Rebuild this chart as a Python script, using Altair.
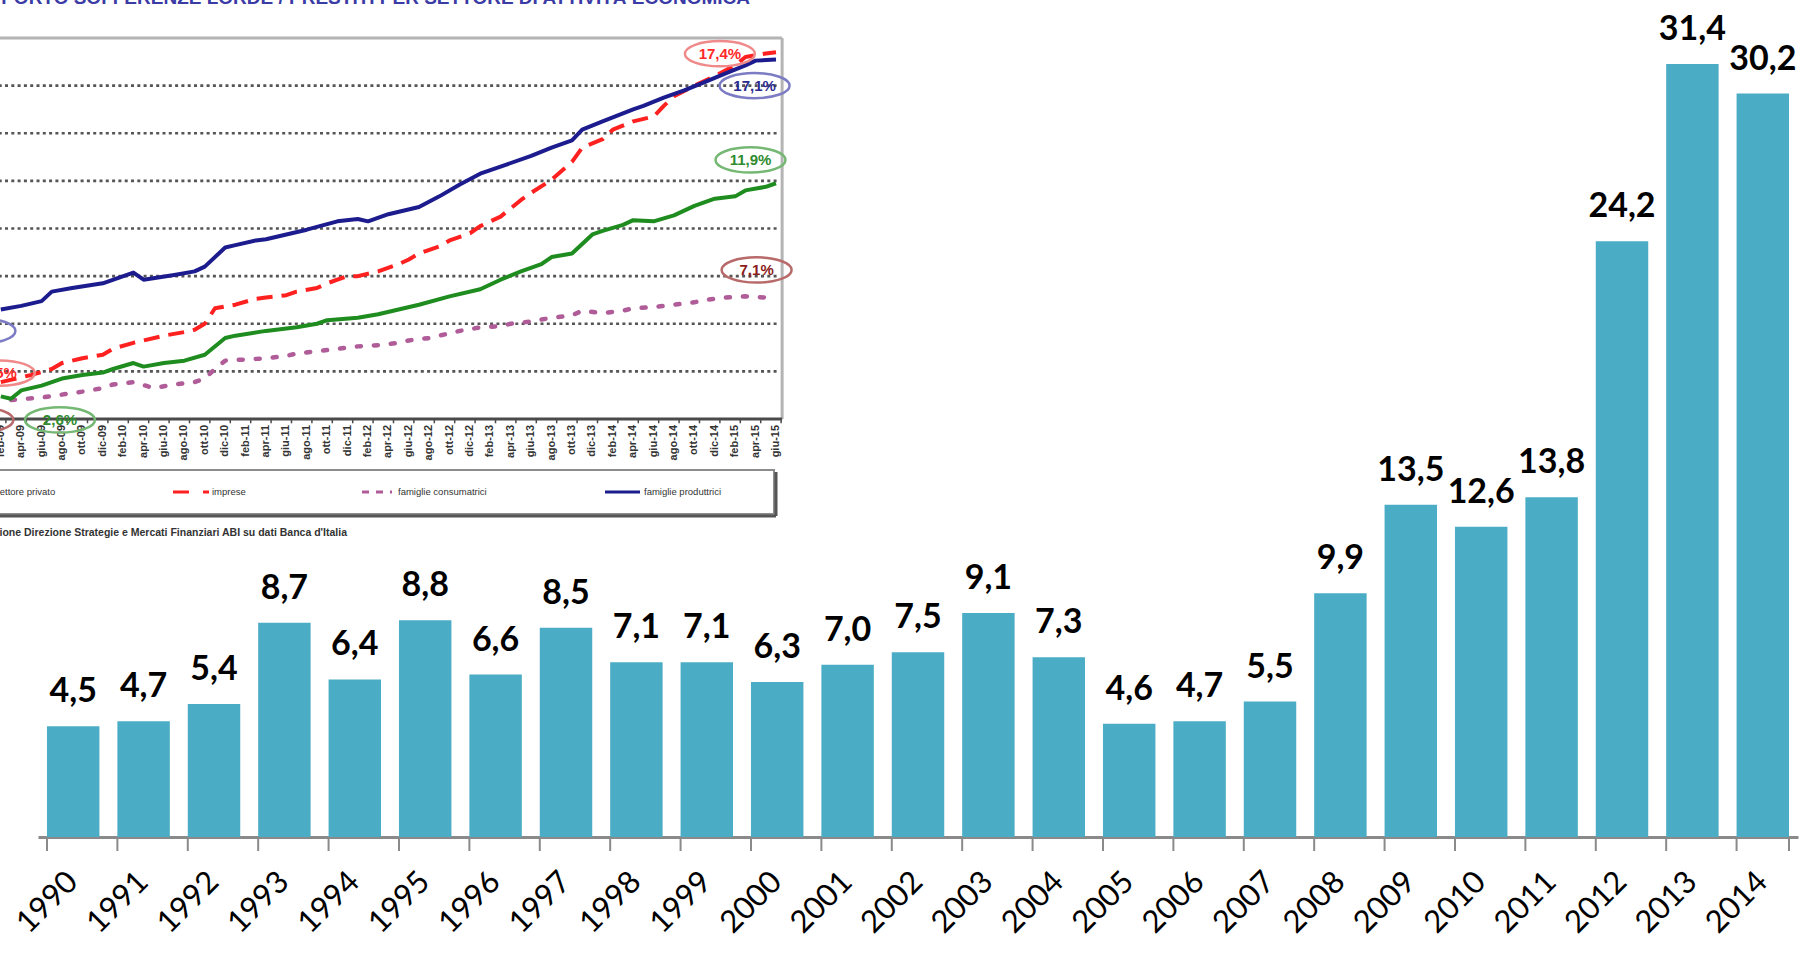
import altair as alt
import pandas as pd

# ---------------------------------------------------------------------------
# Main chart: yearly ratio (bars)
# ---------------------------------------------------------------------------
years = [str(y) for y in range(1990, 2015)]
ratio = [4.5, 4.7, 5.4, 8.7, 6.4, 8.8, 6.6, 8.5, 7.1, 7.1, 6.3, 7.0, 7.5,
         9.1, 7.3, 4.6, 4.7, 5.5, 9.9, 13.5, 12.6, 13.8, 24.2, 31.4, 30.2]

# ---------------------------------------------------------------------------
# Inset: monthly ratio by sector (percent)
# ---------------------------------------------------------------------------
priv_months = ["2009-02", "2009-03", "2009-04", "2009-06", "2009-08", "2009-10", "2009-12",
               "2010-01", "2010-03", "2010-04", "2010-06", "2010-08", "2010-10", "2010-12",
               "2011-01", "2011-04", "2011-07", "2011-09", "2011-10", "2012-01", "2012-03",
               "2012-05", "2012-07", "2012-10", "2013-01", "2013-03", "2013-05", "2013-07",
               "2013-08", "2013-10", "2013-12", "2014-01", "2014-03", "2014-04", "2014-06",
               "2014-08", "2014-10", "2014-12", "2015-02", "2015-03", "2015-05", "2015-06"]
priv_values = [2.95, 2.85, 3.2, 3.4, 3.7, 3.85, 3.95,
               4.1, 4.35, 4.2, 4.35, 4.45, 4.7, 5.4,
               5.5, 5.7, 5.85, 6.0, 6.15, 6.25, 6.4,
               6.6, 6.8, 7.15, 7.45, 7.85, 8.2, 8.5,
               8.8, 8.95, 9.75, 9.9, 10.15, 10.35, 10.3,
               10.55, 10.95, 11.25, 11.35, 11.6, 11.75, 11.9]

impr_months = ["2009-02", "2009-05", "2009-07", "2009-08", "2009-10", "2009-12", "2010-01",
               "2010-03", "2010-04", "2010-06", "2010-08", "2010-09", "2010-10", "2010-11",
               "2011-01", "2011-03", "2011-04", "2011-06", "2011-07", "2011-09", "2011-10",
               "2011-12", "2012-01", "2012-03", "2012-05", "2012-06", "2012-07", "2012-09",
               "2012-10", "2012-12", "2013-01", "2013-03", "2013-05", "2013-06", "2013-08",
               "2013-10", "2013-11", "2014-01", "2014-02", "2014-04", "2014-06", "2014-07",
               "2014-08", "2014-10", "2014-12", "2015-02", "2015-03", "2015-05", "2015-06"]
impr_values = [3.55, 3.85, 4.1, 4.35, 4.55, 4.7, 4.95,
               5.2, 5.3, 5.5, 5.65, 5.75, 6.0, 6.65,
               6.8, 7.05, 7.1, 7.2, 7.35, 7.5, 7.7,
               8.0, 8.0, 8.2, 8.5, 8.7, 8.95, 9.25,
               9.5, 9.8, 10.1, 10.5, 11.2, 11.5, 12.05,
               12.8, 13.4, 13.75, 14.15, 14.5, 14.7, 15.15,
               15.55, 16.0, 16.4, 16.85, 17.2, 17.35, 17.4]

cons_months = ["2009-03", "2009-06", "2009-10", "2009-12", "2010-01", "2010-03", "2010-05",
               "2010-07", "2010-09", "2010-10", "2010-11", "2010-12", "2011-02", "2011-04",
               "2011-06", "2011-07", "2011-09", "2011-11", "2012-01", "2012-03", "2012-05",
               "2012-06", "2012-08", "2012-09", "2012-11", "2013-01", "2013-03", "2013-04",
               "2013-06", "2013-08", "2013-10", "2013-11", "2014-01", "2014-03", "2014-04",
               "2014-06", "2014-08", "2014-10", "2014-11", "2015-01", "2015-03", "2015-05"]
cons_values = [2.8, 2.9, 3.15, 3.3, 3.45, 3.55, 3.3,
               3.45, 3.55, 3.7, 4.1, 4.45, 4.5, 4.55,
               4.65, 4.75, 4.85, 4.95, 5.05, 5.1, 5.2,
               5.3, 5.4, 5.5, 5.7, 5.85, 5.9, 6.0,
               6.1, 6.25, 6.35, 6.55, 6.45, 6.55, 6.65,
               6.7, 6.8, 6.9, 7.0, 7.1, 7.15, 7.1]

prod_months = ["2009-02", "2009-04", "2009-06", "2009-07", "2009-09", "2009-12", "2010-03",
               "2010-04", "2010-07", "2010-09", "2010-10", "2010-12", "2011-01", "2011-03",
               "2011-04", "2011-06", "2011-08", "2011-11", "2012-01", "2012-02", "2012-04",
               "2012-07", "2012-09", "2012-11", "2013-01", "2013-03", "2013-06", "2013-08",
               "2013-10", "2013-11", "2014-01", "2014-04", "2014-05", "2014-07", "2014-09",
               "2014-11", "2015-01", "2015-03", "2015-04", "2015-06"]
prod_values = [6.6, 6.75, 6.95, 7.35, 7.5, 7.7, 8.15,
               7.85, 8.05, 8.2, 8.4, 9.2, 9.3, 9.5,
               9.55, 9.75, 9.95, 10.3, 10.4, 10.3, 10.6,
               10.9, 11.35, 11.85, 12.3, 12.6, 13.05, 13.4,
               13.7, 14.15, 14.5, 15.0, 15.15, 15.5, 15.8,
               16.15, 16.5, 16.85, 17.05, 17.1]

series_names = ["settore privato", "imprese", "famiglie consumatrici", "famiglie produttrici"]
series_colors = ["#1f8c1f", "#ff2020", "#b05c98", "#1c1c8e"]

# Callout bubbles on the inset (label, month index from Jan 2009, percent)
callout_text = ["17,4%", "17,1%", "11,9%", "7,1%", "6,6%", "3,5%", "2,8%", "2,6%"]
callout_idx = [71.5, 74.9, 74.5, 75.1, -1.0, 0.9, -1.2, 6.8]
callout_pct = [17.34, 16.0, 12.88, 8.26, 5.7, 3.93, 1.96, 1.96]
callout_stroke = ["#f08a8a", "#7c7cc4", "#74b874", "#b86a6a", "#7c7cc4", "#f08a8a", "#b86a6a", "#74b874"]
callout_color = ["#ff2a2a", "#2b2b8f", "#2e8b2e", "#8b1c1c", "#2b2b8f", "#ff2a2a", "#8b1c1c", "#2e8b2e"]

month_abbr = ["gen", "feb", "mar", "apr", "mag", "giu", "lug", "ago", "set", "ott", "nov", "dic"]
grid_levels = [4, 6, 8, 10, 12, 14, 16]

inset_title = "RAPPORTO SOFFERENZE LORDE / PRESTITI PER SETTORE DI ATTIVITÀ ECONOMICA"
inset_source = "Fonte: Elaborazione Direzione Strategie e Mercati Finanziari ABI su dati Banca d'Italia"


def month_index(s):
    y, m = s.split("-")
    return (int(y) - 2009) * 12 + int(m) - 1


# ---------------------------------------------------------------------------
# Tables
# ---------------------------------------------------------------------------
main_df = pd.DataFrame({"year": years, "ratio": ratio})

rows = []
for name, months, vals in [
    (series_names[0], priv_months, priv_values),
    (series_names[1], impr_months, impr_values),
    (series_names[2], cons_months, cons_values),
    (series_names[3], prod_months, prod_values),
]:
    for mo, v in zip(months, vals):
        rows.append({"series": name, "idx": month_index(mo), "pct": v})
lines_df = pd.DataFrame(rows)

callout_df = pd.DataFrame({"label": callout_text, "idx": callout_idx, "pct": callout_pct,
                           "stroke": callout_stroke, "color": callout_color})

tick_idx = list(range(1, 78, 2))
tick_df = pd.DataFrame({
    "idx": tick_idx,
    "edge": [i + 0.5 for i in tick_idx],
    "label": [f"{month_abbr[i % 12]}-{(2009 + i // 12) % 100:02d}" for i in tick_idx],
    "pct": [2.0] * len(tick_idx),
    "pct_lab": [1.75] * len(tick_idx),
    "pct_tick": [1.82] * len(tick_idx),
})

grid_df = pd.DataFrame({"pct": grid_levels, "x0": [-6] * len(grid_levels),
                        "x1": [77.3] * len(grid_levels)})
frame_h = pd.DataFrame({"pct": [18, 2], "x0": [-6, -6], "x1": [77.6, 77.6],
                        "kind": ["top", "axis"]})
frame_v = pd.DataFrame({"idx": [77.6], "p0": [2], "p1": [18]})

# ---------------------------------------------------------------------------
# Main bar chart
# ---------------------------------------------------------------------------
W, H = 1760, 837
PAD_L = 38

xs = alt.Scale(domain=years, paddingInner=0.255, paddingOuter=0.1275)
ys = alt.Scale(domain=[0, 34], nice=False, zero=True)
x_axis = alt.Axis(title=None, labelAngle=-45, labelAlign="right", labelBaseline="middle",
                  labelFont="Lato", labelFontSize=31, labelColor="#000000",
                  labelPadding=40, ticks=False, domainColor="#8a8a8a", domainWidth=3,
                  labelOverlap=False)

base = alt.Chart(main_df)
bars = base.mark_bar(color="#4BACC6").encode(
    x=alt.X("year:N", scale=xs, axis=x_axis),
    y=alt.Y("ratio:Q", scale=ys, axis=None),
)
values_txt = base.mark_text(font="Lato", fontWeight="bold", fontSize=34, color="#000000",
                            baseline="alphabetic", dy=-24).encode(
    x=alt.X("year:N", scale=xs, axis=x_axis),
    y=alt.Y("ratio:Q", scale=ys, axis=None),
    text="lab:N",
).transform_calculate(lab="replace(format(datum.ratio, '.1f'), '.', ',')")

ticks_left = base.mark_rule(color="#8a8a8a", strokeWidth=2).encode(
    x=alt.X("year:N", scale=xs, axis=x_axis, bandPosition=0),
    y=alt.value(H), y2=alt.value(H + 14),
)
ticks_right = base.transform_filter(alt.datum.year == years[-1]).mark_rule(
    color="#8a8a8a", strokeWidth=2).encode(
    x=alt.X("year:N", scale=xs, axis=x_axis, bandPosition=1),
    y=alt.value(H), y2=alt.value(H + 14),
)

main = alt.layer(bars, values_txt, ticks_left, ticks_right)

# ---------------------------------------------------------------------------
# Inset line chart (upper left)
# ---------------------------------------------------------------------------
ixs = alt.Scale(domain=[0, 77], range=[-47.4, 738], nice=False, zero=False)
iys = alt.Scale(domain=[2, 18], range=[419, 38], nice=False, zero=False)

grid = alt.Chart(grid_df).mark_rule(color="#555555", strokeWidth=2.7, strokeDash=[3, 3.3]).encode(
    x=alt.X("x0:Q", scale=ixs, axis=None), x2="x1:Q",
    y=alt.Y("pct:Q", scale=iys, axis=None),
)
top_border = alt.Chart(frame_h).transform_filter(alt.datum.kind == "top").mark_rule(
    color="#b4b4b4", strokeWidth=3).encode(
    x=alt.X("x0:Q", scale=ixs, axis=None), x2="x1:Q",
    y=alt.Y("pct:Q", scale=iys, axis=None),
)
axis_line = alt.Chart(frame_h).transform_filter(alt.datum.kind == "axis").mark_rule(
    color="#4a4a4a", strokeWidth=3).encode(
    x=alt.X("x0:Q", scale=ixs, axis=None), x2="x1:Q",
    y=alt.Y("pct:Q", scale=iys, axis=None),
)
right_border = alt.Chart(frame_v).mark_rule(color="#b4b4b4", strokeWidth=3).encode(
    x=alt.X("idx:Q", scale=ixs, axis=None),
    y=alt.Y("p0:Q", scale=iys, axis=None), y2="p1:Q",
)
inset_ticks = alt.Chart(tick_df).mark_rule(color="#4a4a4a", strokeWidth=1.5).encode(
    x=alt.X("edge:Q", scale=ixs, axis=None),
    y=alt.Y("pct:Q", scale=iys, axis=None), y2="pct_tick:Q",
)
inset_labels = alt.Chart(tick_df).mark_text(angle=270, align="right", baseline="middle",
                                            font="Liberation Sans", fontWeight="bold",
                                            fontSize=11, color="#333333").encode(
    x=alt.X("idx:Q", scale=ixs, axis=None),
    y=alt.Y("pct_lab:Q", scale=iys, axis=None),
    text="label:N",
)


def series_line(name, color, dash, width, cap="butt"):
    kw = dict(color=color, strokeWidth=width, strokeCap=cap, strokeJoin="round")
    if dash:
        kw["strokeDash"] = dash
    return alt.Chart(lines_df).transform_filter(alt.datum.series == name).mark_line(**kw).encode(
        x=alt.X("idx:Q", scale=ixs, axis=None),
        y=alt.Y("pct:Q", scale=iys, axis=None),
        order="idx:Q",
    )


line_priv = series_line(series_names[0], series_colors[0], None, 4)
line_impr = series_line(series_names[1], series_colors[1], [16, 9], 4)
line_cons = series_line(series_names[2], series_colors[2], [4, 13], 4.5, "round")
line_prod = series_line(series_names[3], series_colors[3], None, 4)

ELLIPSE = "M-1,0 A1,0.36 0 1,0 1,0 A1,0.36 0 1,0 -1,0 Z"
bubbles = alt.Chart(callout_df).mark_point(shape=ELLIPSE, filled=False, size=4900,
                                           strokeWidth=2.5, opacity=1).encode(
    x=alt.X("idx:Q", scale=ixs, axis=None),
    y=alt.Y("pct:Q", scale=iys, axis=None),
    stroke=alt.Stroke("stroke:N", scale=None),
)
bubble_txt = alt.Chart(callout_df).mark_text(font="Liberation Sans", fontWeight="bold",
                                             fontSize=15, baseline="middle").encode(
    x=alt.X("idx:Q", scale=ixs, axis=None),
    y=alt.Y("pct:Q", scale=iys, axis=None),
    text="label:N",
    color=alt.Color("color:N", scale=None),
)

title_txt = alt.Chart(pd.DataFrame({"t": [inset_title]})).mark_text(
    font="Liberation Sans", fontWeight="bold", fontSize=19, color="#3b3ba6",
    align="right", baseline="alphabetic").encode(
    text="t:N", x=alt.value(750 - PAD_L), y=alt.value(4))

source_txt = alt.Chart(pd.DataFrame({"t": [inset_source]})).mark_text(
    font="Liberation Sans", fontWeight="bold", fontSize=10.5, color="#333333",
    align="right", baseline="middle").encode(
    text="t:N", x=alt.value(347 - PAD_L), y=alt.value(533))

# legend box of the inset
leg_box = alt.Chart(pd.DataFrame({"k": [0]})).mark_rect(
    fill="#ffffff", stroke="#8c8c8c", strokeWidth=2).encode(
    x=alt.value(-60), x2=alt.value(774 - PAD_L), y=alt.value(470), y2=alt.value(514))
leg_shadow_b = alt.Chart(pd.DataFrame({"k": [0]})).mark_rule(color="#555555", strokeWidth=3).encode(
    x=alt.value(-60), x2=alt.value(776 - PAD_L), y=alt.value(516))
leg_shadow_r = alt.Chart(pd.DataFrame({"k": [0]})).mark_rule(color="#555555", strokeWidth=3).encode(
    x=alt.value(776 - PAD_L), y=alt.value(472), y2=alt.value(516))

leg_df = pd.DataFrame({
    "name": series_names,
    "x0": [-60 - PAD_L, 173 - PAD_L, 362 - PAD_L, 605 - PAD_L],
    "x1": [-10 - PAD_L, 209 - PAD_L, 392 - PAD_L, 640 - PAD_L],
    "tx": [-5 - PAD_L, 212 - PAD_L, 398 - PAD_L, 644 - PAD_L],
})


def legend_sample(i, dash, width):
    kw = dict(color=series_colors[i], strokeWidth=width)
    if dash:
        kw["strokeDash"] = dash
    r = leg_df.iloc[i]
    return alt.Chart(pd.DataFrame({"k": [0]})).mark_rule(**kw).encode(
        x=alt.value(float(r.x0)), x2=alt.value(float(r.x1)), y=alt.value(492))


leg_lines = [legend_sample(0, None, 3), legend_sample(1, [16, 14], 3),
             legend_sample(2, [7, 7], 3), legend_sample(3, None, 3)]
leg_text = alt.Chart(leg_df).mark_text(font="Liberation Sans", fontSize=9.5, color="#333333",
                                       align="left", baseline="middle").encode(
    x=alt.X("tx:Q", scale=None, axis=None), y=alt.value(492), text="name:N")

inset = alt.layer(
    leg_box, leg_shadow_b, leg_shadow_r, *leg_lines, leg_text,
    grid, top_border, right_border, axis_line, inset_ticks, inset_labels,
    line_cons, line_priv, line_impr, line_prod,
    bubbles, bubble_txt, title_txt, source_txt,
)

chart = alt.layer(main, inset).resolve_scale(
    x="independent", y="independent"
).properties(
    width=W, height=H,
    autosize=alt.AutoSizeParams(type="none"),
    padding={"left": PAD_L, "right": 18, "top": 0, "bottom": 953 - H},
    background="#ffffff",
).configure_view(stroke=None)

chart.save("out.html", embed_options={"renderer": "svg", "actions": False})
